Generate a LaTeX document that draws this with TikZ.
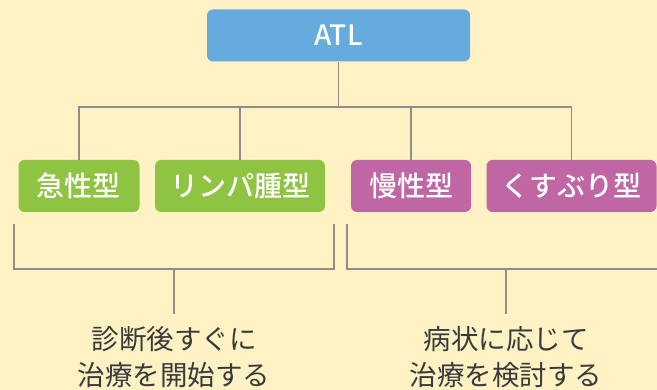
\documentclass[tikz,border=0pt]{standalone}
\usepackage{fontspec}
\newfontfamily\jpfont[BoldFont={Noto Sans CJK JP Medium}]{Noto Sans CJK JP}
\usetikzlibrary{positioning}
\definecolor{bgyellow}{HTML}{FEF2C5}
\definecolor{atlblue}{HTML}{66ABDD}
\definecolor{acutegreen}{HTML}{8EC441}
\definecolor{chronicpink}{HTML}{C066A4}
\definecolor{linegray}{HTML}{8E8E8E}
\definecolor{textgray}{HTML}{3A3A3A}

\begin{document}
\begin{tikzpicture}[x=1pt,y=-1pt,
  typebox/.style={rounded corners=6pt,text=white,minimum height=52pt,inner sep=0pt,
    font=\jpfont\bfseries\fontsize{28}{30}\selectfont},
  link/.style={draw=linegray,line width=1.6pt},
  note/.style={text=textgray,align=center,inner xsep=0pt,inner ysep=12pt,
    font=\jpfont\fontsize{27.5}{36}\selectfont}]
\fill[bgyellow] (0,0) rectangle (657,390);
\useasboundingbox (0,0) rectangle (657,390);
\clip (0,0) rectangle (657,390);

% top and the four types
\node (atl) [typebox,fill=atlblue,minimum width=263pt,font=\jpfont\bfseries\fontsize{28}{30}\selectfont] at (338.5,35.5) {ATL};
\node (acute) [typebox,fill=acutegreen,minimum width=121pt] at (79,186) {急性型};
\node (lymph) [typebox,fill=acutegreen,minimum width=170pt] at (240,186) {リンパ腫型};
\node (chronic) [typebox,fill=chronicpink,minimum width=120pt] at (411,186) {慢性型};
\node (smold) [typebox,fill=chronicpink,minimum width=170pt] at (571.5,186) {くすぶり型};

\coordinate (bus) at (338.5,107);
\draw[link] (atl) -- (bus);
\draw[link] (acute) |- (bus) -| (smold);
\draw[link] (lymph) -- (lymph |- bus);
\draw[link] (chronic) -- (chronic |- bus);

% brackets and what follows
\coordinate (b1l) at (14,224);
\coordinate (b1r) at (334,224);
\coordinate (b1m) at (174,269);
\coordinate (b2l) at (347,224);
\coordinate (b2r) at (680,224);
\coordinate (b2m) at (506,269);
\draw[link] (b1l) -- (b1l |- b1m) -- (b1r |- b1m) -- (b1r);
\draw[link] (b2l) -- (b2l |- b2m) -- (b2r |- b2m) -- (b2r);

\node (early) [note,anchor=north] at (174,314) {診断後すぐに\\治療を開始する};
\node (watch) [note,anchor=north] at (506,314) {病状に応じて\\治療を検討する};
\draw[link] (b1m) -- (early);
\draw[link] (b2m) -- (watch);
\end{tikzpicture}
\end{document}
